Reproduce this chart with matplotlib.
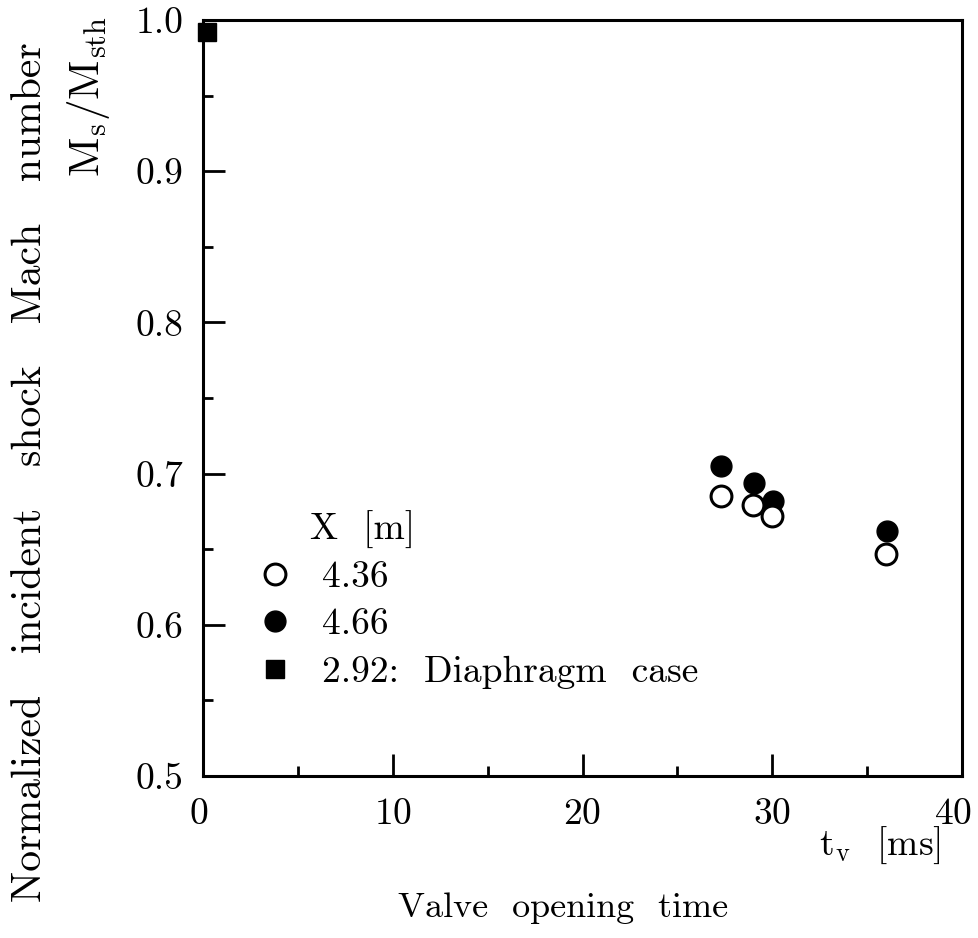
import matplotlib.pyplot as plt
from matplotlib.ticker import MultipleLocator
from matplotlib.transforms import ScaledTranslation

# data
tv_436 = [27.3, 29.0, 30.0, 36.0]
ms_436 = [0.685, 0.679, 0.672, 0.647]
tv_466 = [27.3, 29.05, 30.05, 36.05]
ms_466 = [0.705, 0.694, 0.682, 0.662]
tv_diaph = [0.2]
ms_diaph = [0.992]
x_ticks = [0, 10, 20, 30, 40]

plt.rcParams['font.family'] = 'cmr10'
plt.rcParams['mathtext.fontset'] = 'cm'
plt.rcParams['axes.formatter.use_mathtext'] = True

fig = plt.figure(figsize=(9.79, 9.38), dpi=100)
ax = fig.add_axes([0.2074, 0.1727, 0.7752, 0.806])

ax.plot(tv_436, ms_436, 'o', ms=15, mfc='white', mec='black', mew=2.2,
        ls='none', label='4.36', zorder=3)
ax.plot(tv_466, ms_466, 'o', ms=15, mfc='black', mec='black',
        ls='none', label='4.66', zorder=2)
ax.plot(tv_diaph, ms_diaph, 's', ms=12.5, color='black', ls='none',
        label='2.92:  Diaphragm  case', clip_on=False)

ax.set_xlim(0, 40)
ax.set_ylim(0.5, 1.0)
ax.set_xticks(x_ticks)
ax.xaxis.set_minor_locator(MultipleLocator(5))
ax.yaxis.set_major_locator(MultipleLocator(0.1))
ax.yaxis.set_minor_locator(MultipleLocator(0.05))
ax.yaxis.set_major_formatter(plt.FormatStrFormatter('%.1f'))
ax.tick_params(which='both', direction='in', width=2, labelsize=27,
               top=False, right=False)
ax.tick_params(which='major', length=16)
ax.tick_params(axis='x', which='major', pad=16)
ax.tick_params(axis='y', which='major', pad=14)
ax.tick_params(which='minor', length=7)
for s in ax.spines.values():
    s.set_linewidth(2.2)

# shift edge labels a little, like the original
ticks = ax.xaxis.get_major_ticks()
ticks[-1].label1.set_transform(ticks[-1].label1.get_transform()
                               + ScaledTranslation(-0.09, 0, fig.dpi_scale_trans))
ticks[0].label1.set_transform(ticks[0].label1.get_transform()
                              + ScaledTranslation(-0.04, 0, fig.dpi_scale_trans))

fig.text(0.031, 0.497, 'Normalized   incident   shock   Mach   number',
         rotation=90, ha='center', va='center', fontsize=30)
fig.text(0.090, 0.897, r'$\mathrm{M_s/M_{sth}}$', rotation=90,
         ha='center', va='center', fontsize=31)
fig.text(0.899, 0.099, r'$\mathrm{t_v}$  [ms]', ha='center', va='center',
         fontsize=27)
fig.text(0.575, 0.032, 'Valve  opening  time', ha='center', va='center',
         fontsize=26)

ax.text(0.141, 0.325, 'X  [m]', transform=ax.transAxes, ha='left',
        va='center', fontsize=27)
ax.legend(loc='upper left', bbox_to_anchor=(0.05, 0.305), frameon=False,
          fontsize=27, handlelength=1.0, handletextpad=0.75,
          labelspacing=0.38, borderaxespad=0)

fig.savefig('out.png', dpi=100)
